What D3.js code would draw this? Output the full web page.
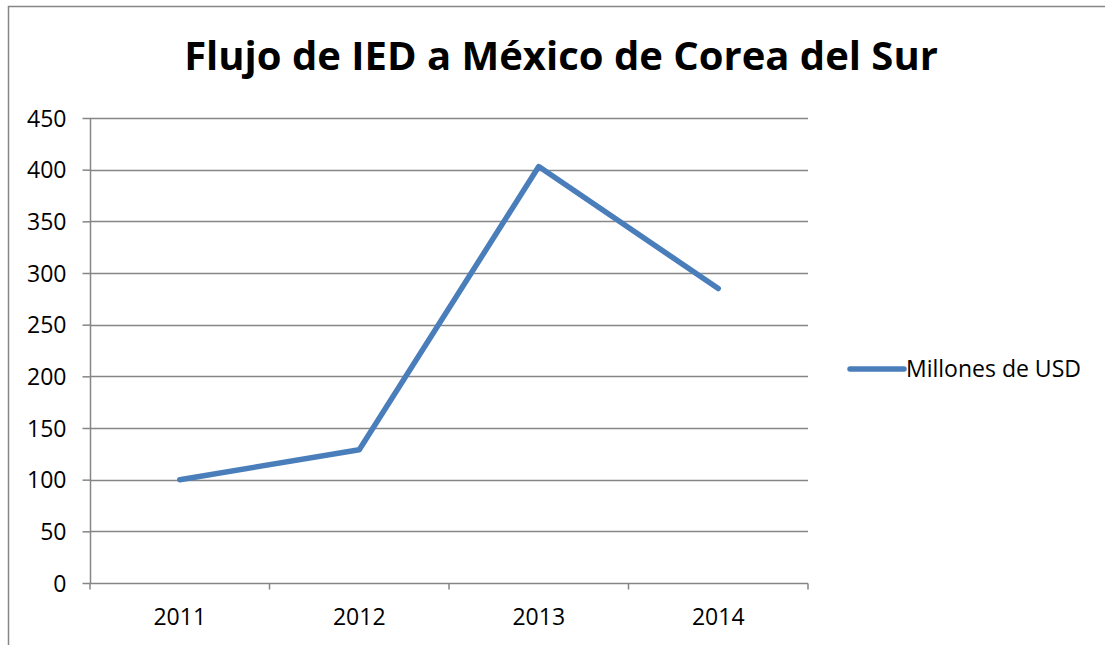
<!DOCTYPE html>
<html>
<head>
<meta charset="utf-8">
<script src="https://cdn.jsdelivr.net/npm/d3@7"></script>
<style>
  body { margin: 0; background: #fff; }
  text { font-family: "Open Sans", "Noto Sans", sans-serif; fill: #000; }
</style>
</head>
<body>
<div id="chart"></div>
<script>
// data
const years = ['2011', '2012', '2013', '2014'];
const values = [100, 129, 403, 285];
const yTicks = [0, 50, 100, 150, 200, 250, 300, 350, 400, 450];
const seriesName = 'Millones de USD';
const title = 'Flujo de IED a México de Corea del Sur';

const width = 1105, height = 645;
const margin = { top: 118, left: 90, right: 297, bottom: 62 };

const svg = d3.select('#chart').append('svg')
    .attr('width', width).attr('height', height);

// outer frame (clipped at right/bottom)
svg.append('path')
    .attr('d', `M8.5,${height} L8.5,6.5 L${width},6.5`)
    .attr('fill', 'none')
    .attr('stroke', '#868686')
    .attr('stroke-width', 1.5);

const x = d3.scaleBand(years, [margin.left, width - margin.right]);
const y = d3.scaleLinear([0, 450], [height - margin.bottom, margin.top]);

// gridlines
svg.append('g')
    .selectAll('line')
    .data(yTicks.filter(d => d > 0))
    .join('line')
    .attr('x1', margin.left).attr('x2', width - margin.right)
    .attr('y1', d => Math.round(y(d)) + 0.5).attr('y2', d => Math.round(y(d)) + 0.5)
    .attr('stroke', '#868686')
    .attr('stroke-width', 1.5);

// y axis
const axisY = svg.append('g')
    .attr('transform', `translate(${margin.left + 0.5},0)`)
    .call(d3.axisLeft(y).tickValues(yTicks).tickSize(8).tickPadding(16));
axisY.selectAll('path, line').attr('stroke', '#868686').attr('stroke-width', 1.5);
axisY.select('.domain').attr('d', `M0,${y(0)}V${y(450)}`);
axisY.selectAll('text').style('font-size', '23px').attr('dy', '0.35em');

// x axis
const axisX = svg.append('g')
    .attr('transform', `translate(0,${Math.round(y(0)) + 0.5})`)
    .call(d3.axisBottom(x).tickSize(0).tickPadding(25));
axisX.selectAll('path, line').attr('stroke', '#868686').attr('stroke-width', 1.5);
axisX.select('.domain').attr('d', `M${margin.left},0H${width - margin.right}`);
axisX.selectAll('text').style('font-size', '23px').attr('dy', '0.71em');
// tick marks at band edges
axisX.selectAll('line.edge')
    .data(d3.range(years.length + 1))
    .join('line')
    .classed('edge', true)
    .attr('x1', i => margin.left + i * x.step()).attr('x2', i => margin.left + i * x.step())
    .attr('y1', 0).attr('y2', 6)
    .attr('stroke', '#868686')
    .attr('stroke-width', 1.5);

// line
const line = d3.line()
    .x((d, i) => x(years[i]) + x.bandwidth() / 2)
    .y(d => y(d));
svg.append('path')
    .datum(values)
    .attr('fill', 'none')
    .attr('stroke', '#4a7ebb')
    .attr('stroke-width', 5.5)
    .attr('stroke-linejoin', 'round')
    .attr('stroke-linecap', 'round')
    .attr('d', line);

// title
svg.append('text')
    .attr('x', 561).attr('y', 70)
    .attr('text-anchor', 'middle')
    .style('font-size', '40px')
    .style('font-weight', 'bold')
    .text(title);

// legend
const legend = svg.append('g').attr('transform', 'translate(849,369)');
legend.append('line')
    .attr('x1', 1).attr('x2', 55)
    .attr('stroke', '#4a7ebb')
    .attr('stroke-width', 5.5)
    .attr('stroke-linecap', 'round');
legend.append('text')
    .attr('x', 57).attr('dy', '0.35em')
    .style('font-size', '23px')
    .text(seriesName);
</script>
</body>
</html>
